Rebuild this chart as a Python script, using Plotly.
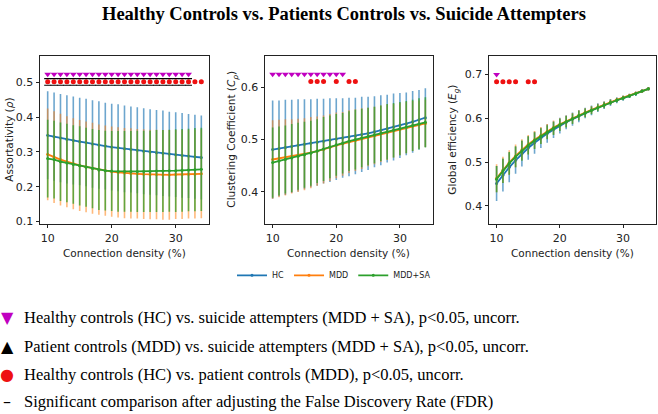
import plotly.graph_objects as go
from plotly.subplots import make_subplots

# ---- data ----
density = [10, 11, 12, 13, 14, 15, 16, 17, 18, 19, 20, 21, 22, 23, 24, 25, 26, 27, 28, 29, 30, 31, 32, 33, 34]

assort_hc = [0.348, 0.344, 0.340, 0.336, 0.333, 0.330, 0.327, 0.323, 0.320, 0.317, 0.314, 0.312, 0.309,
             0.307, 0.305, 0.302, 0.300, 0.298, 0.296, 0.294, 0.292, 0.290, 0.288, 0.286, 0.284]
assort_hc_sd = [0.127, 0.127, 0.127, 0.127, 0.127, 0.126, 0.126, 0.126, 0.126, 0.125, 0.125, 0.125, 0.125,
                0.124, 0.124, 0.124, 0.123, 0.123, 0.123, 0.122, 0.122, 0.122, 0.121, 0.121, 0.121]
assort_mdd = [0.293, 0.285, 0.278, 0.272, 0.266, 0.261, 0.257, 0.253, 0.249, 0.246, 0.243, 0.241, 0.239,
              0.238, 0.237, 0.236, 0.235, 0.235, 0.234, 0.234, 0.235, 0.235, 0.236, 0.236, 0.237]
assort_mdd_sd = [0.132, 0.132, 0.132, 0.131, 0.131, 0.131, 0.131, 0.131, 0.130, 0.130, 0.130, 0.130, 0.130,
                 0.130, 0.129, 0.129, 0.129, 0.129, 0.129, 0.129, 0.128, 0.128, 0.128, 0.128, 0.128]
assort_sa = [0.281, 0.278, 0.272, 0.268, 0.264, 0.260, 0.256, 0.252, 0.248, 0.246, 0.245, 0.244, 0.244,
             0.244, 0.244, 0.244, 0.244, 0.245, 0.245, 0.246, 0.246, 0.247, 0.248, 0.249, 0.250]
assort_sa_sd = [0.112, 0.112, 0.113, 0.113, 0.113, 0.114, 0.114, 0.114, 0.115, 0.115, 0.115, 0.116, 0.116,
                0.116, 0.117, 0.117, 0.117, 0.118, 0.118, 0.118, 0.119, 0.119, 0.119, 0.120, 0.120]

clust_hc = [0.481, 0.483, 0.485, 0.487, 0.489, 0.491, 0.493, 0.495, 0.497, 0.499, 0.501, 0.503, 0.505,
            0.507, 0.510, 0.512, 0.515, 0.518, 0.521, 0.524, 0.527, 0.530, 0.534, 0.538, 0.542]
clust_hc_sd = [0.094, 0.092, 0.091, 0.089, 0.088, 0.086, 0.084, 0.083, 0.081, 0.080, 0.078, 0.076, 0.075,
               0.073, 0.072, 0.070, 0.068, 0.067, 0.065, 0.064, 0.062, 0.060, 0.059, 0.057, 0.056]
clust_mdd = [0.462, 0.464, 0.466, 0.468, 0.470, 0.472, 0.475, 0.478, 0.481, 0.485, 0.489, 0.492, 0.496,
             0.499, 0.502, 0.505, 0.508, 0.511, 0.514, 0.517, 0.520, 0.523, 0.526, 0.529, 0.531]
clust_mdd_sd = [0.075, 0.074, 0.073, 0.071, 0.070, 0.069, 0.068, 0.066, 0.065, 0.064, 0.063, 0.061, 0.060,
                0.059, 0.058, 0.056, 0.055, 0.054, 0.053, 0.051, 0.050, 0.049, 0.048, 0.046, 0.045]
clust_sa = [0.456, 0.459, 0.462, 0.465, 0.468, 0.471, 0.474, 0.478, 0.482, 0.486, 0.490, 0.493, 0.497,
            0.500, 0.503, 0.506, 0.509, 0.512, 0.515, 0.518, 0.521, 0.524, 0.527, 0.530, 0.533]
clust_sa_sd = [0.067, 0.066, 0.065, 0.065, 0.064, 0.063, 0.062, 0.061, 0.061, 0.060, 0.059, 0.058, 0.057,
               0.057, 0.056, 0.055, 0.054, 0.053, 0.053, 0.052, 0.051, 0.050, 0.049, 0.049, 0.048]

eff_hc = [0.451, 0.470, 0.488, 0.504, 0.519, 0.532, 0.544, 0.555, 0.565, 0.574, 0.583, 0.591, 0.598,
          0.605, 0.612, 0.618, 0.624, 0.630, 0.636, 0.641, 0.646, 0.651, 0.656, 0.662, 0.667]
eff_hc_sd = [0.040, 0.037, 0.034, 0.031, 0.029, 0.027, 0.025, 0.023, 0.021, 0.019, 0.018, 0.016, 0.015,
             0.014, 0.012, 0.011, 0.010, 0.009, 0.008, 0.007, 0.006, 0.005, 0.005, 0.004, 0.004]
eff_mdd = [0.463, 0.482, 0.499, 0.514, 0.528, 0.540, 0.551, 0.561, 0.570, 0.579, 0.586, 0.593, 0.600,
           0.607, 0.613, 0.619, 0.625, 0.631, 0.637, 0.642, 0.647, 0.652, 0.657, 0.662, 0.667]
eff_mdd_sd = [0.032, 0.030, 0.028, 0.026, 0.024, 0.022, 0.020, 0.019, 0.017, 0.016, 0.014, 0.013, 0.012,
              0.011, 0.010, 0.009, 0.008, 0.007, 0.006, 0.005, 0.005, 0.004, 0.004, 0.003, 0.003]
eff_sa = [0.461, 0.480, 0.497, 0.512, 0.526, 0.538, 0.549, 0.559, 0.568, 0.577, 0.585, 0.592, 0.599,
          0.606, 0.612, 0.618, 0.624, 0.630, 0.636, 0.641, 0.646, 0.651, 0.656, 0.662, 0.667]
eff_sa_sd = [0.030, 0.028, 0.026, 0.024, 0.023, 0.021, 0.019, 0.018, 0.016, 0.015, 0.014, 0.013, 0.012,
             0.011, 0.010, 0.009, 0.008, 0.007, 0.006, 0.005, 0.005, 0.004, 0.004, 0.003, 0.003]

# significance markers (x positions and the row height they sit at)
sig_hc_sa_x = [[10, 11, 12, 13, 14, 15, 16, 17, 18, 19, 20, 21, 22, 23, 24, 25, 26, 27, 28, 29, 30, 31, 32],
               [10, 11, 12, 13, 14, 15, 16, 17, 18, 19, 20, 21],
               [10]]
sig_hc_sa_y = [0.524, 0.625, 0.700]
sig_hc_mdd_x = [density,
                [16, 17, 18, 20, 22, 23],
                [10, 11, 12, 13, 15, 16]]
sig_hc_mdd_y = [0.502, 0.611, 0.683]
fdr_x = [10, 11, 12, 13, 14, 15, 16, 17, 18, 19, 20, 21, 22, 23, 24, 25, 26, 27, 28, 29, 30, 31, 32]
fdr_y = [0.511, 0.492]

group_names = ["HC", "MDD", "MDD+SA"]
group_colors = ["#1f77b4", "#ff7f0e", "#2ca02c"]
error_colors = ["rgba(31,119,180,0.65)", "rgba(255,127,14,0.55)", "rgba(44,160,44,0.75)"]

panels = [
    ([assort_hc, assort_mdd, assort_sa], [assort_hc_sd, assort_mdd_sd, assort_sa_sd]),
    ([clust_hc, clust_mdd, clust_sa], [clust_hc_sd, clust_mdd_sd, clust_sa_sd]),
    ([eff_hc, eff_mdd, eff_sa], [eff_hc_sd, eff_mdd_sd, eff_sa_sd]),
]
y_titles = ["Assortativity (<i>ρ</i>)",
            "Clustering Coefficient (<i>C<sub>ρ</sub></i>)",
            "Global efficiency (<i>E<sub>g</sub></i>)"]
y_ranges = [[0.093, 0.575], [0.339, 0.659], [0.359, 0.741]]
y_ticks = [[0.1, 0.2, 0.3, 0.4, 0.5], [0.4, 0.5, 0.6], [0.4, 0.5, 0.6, 0.7]]

fig = make_subplots(rows=1, cols=3)

for p, (means, sds) in enumerate(panels):
    col = p + 1
    for g in range(3):
        fig.add_trace(go.Scatter(
            x=density, y=means[g], mode="lines+markers", name=group_names[g],
            line=dict(color=group_colors[g], width=1.8),
            marker=dict(size=3, color=group_colors[g]),
            error_y=dict(type="data", array=sds[g], visible=True, width=0,
                         thickness=1.6, color=error_colors[g]),
            showlegend=(p == 0), legendgroup=group_names[g],
        ), row=1, col=col)

    fig.add_trace(go.Scatter(
        x=sig_hc_mdd_x[p], y=[sig_hc_mdd_y[p]] * len(sig_hc_mdd_x[p]), mode="markers",
        marker=dict(symbol="circle", size=5, color="#ee1111"), showlegend=False,
    ), row=1, col=col)
    fig.add_trace(go.Scatter(
        x=sig_hc_sa_x[p], y=[sig_hc_sa_y[p]] * len(sig_hc_sa_x[p]), mode="markers",
        marker=dict(symbol="triangle-down", size=6, color="#c000c0"), showlegend=False,
    ), row=1, col=col)

# FDR dashes only appear in the first panel
for fy in fdr_y:
    fig.add_trace(go.Scatter(
        x=fdr_x, y=[fy] * len(fdr_x), mode="markers",
        marker=dict(symbol="line-ew", size=5, line=dict(color="black", width=1.2)),
        showlegend=False,
    ), row=1, col=1)

x_domains = [[40 / 658, 209 / 658], [265 / 658, 433 / 658], [489 / 658, 656 / 658]]
y_domain = [1 - 226 / 414, 1 - 57 / 414]
tick_font = dict(family="DejaVu Sans", size=11, color="#222")

for p in range(3):
    fig.update_xaxes(domain=x_domains[p], range=[8.8, 35.2], tickvals=[10, 20, 30],
                     showline=True, linecolor="#222", linewidth=1, mirror=True,
                     ticks="outside", ticklen=3.5, tickcolor="#222", showgrid=False,
                     zeroline=False, tickfont=tick_font, row=1, col=p + 1)
    fig.update_yaxes(domain=y_domain, range=y_ranges[p], tickvals=y_ticks[p],
                     tickformat=".1f",
                     showline=True, linecolor="#222", linewidth=1, mirror=True,
                     ticks="outside", ticklen=3.5, tickcolor="#222", showgrid=False,
                     zeroline=False, tickfont=tick_font, row=1, col=p + 1)

annotations = []
y_title_x = [9, 232, 453]
for p in range(3):
    annotations.append(dict(
        text=y_titles[p], x=y_title_x[p] / 658, y=1 - 141 / 414, xref="paper", yref="paper",
        textangle=-90, showarrow=False, xanchor="center", yanchor="middle",
        font=dict(family="DejaVu Sans", size=10.5, color="#222")))
    annotations.append(dict(
        text="Connection density (%)", x=sum(x_domains[p]) / 2, y=1 - 255 / 414,
        xref="paper", yref="paper", showarrow=False, xanchor="center", yanchor="middle",
        font=dict(family="DejaVu Sans", size=10.5, color="#222")))

note_symbols = ["▼", "▲", "●", "–"]
note_colors = ["#c000c0", "black", "#ee1111", "black"]
note_texts = [
    "Healthy controls (HC) vs. suicide attempters (MDD + SA), p<0.05, uncorr.",
    "Patient controls (MDD) vs. suicide attempters (MDD + SA), p<0.05, uncorr.",
    "Healthy controls (HC) vs. patient controls (MDD), p<0.05, uncorr.",
    "Significant comparison after adjusting the False Discovery Rate (FDR)",
]
note_y = [321, 350, 378, 405]
for sym, c, txt, ny in zip(note_symbols, note_colors, note_texts, note_y):
    annotations.append(dict(
        text=sym, x=7 / 658, y=1 - ny / 414, xref="paper", yref="paper", showarrow=False,
        xanchor="center", yanchor="middle", font=dict(family="DejaVu Sans", size=16, color=c)))
    annotations.append(dict(
        text=txt, x=22 / 658, y=1 - ny / 414, xref="paper", yref="paper", showarrow=False,
        xanchor="left", yanchor="middle",
        font=dict(family="Liberation Serif", size=16.5, color="black")))

annotations.append(dict(
    text="<b>Healthy Controls vs. Patients Controls vs. Suicide Attempters</b>",
    x=344 / 658, y=1 - 14 / 414, xref="paper", yref="paper", showarrow=False,
    xanchor="center", yanchor="middle",
    font=dict(family="Liberation Serif", size=18.5, color="black")))

fig.update_layout(
    width=658, height=414,
    margin=dict(l=0, r=0, t=0, b=0),
    paper_bgcolor="white", plot_bgcolor="white",
    annotations=annotations,
    showlegend=True,
    legend=dict(orientation="h", x=334 / 658, y=1 - 278 / 414, xanchor="center", yanchor="middle",
                font=dict(family="DejaVu Sans", size=8, color="#222"), bgcolor="rgba(0,0,0,0)",
                itemwidth=30, tracegroupgap=0),
)

fig.write_html("out.html", config={"displayModeBar": False},
               post_script="document.body.style.margin='0';")
